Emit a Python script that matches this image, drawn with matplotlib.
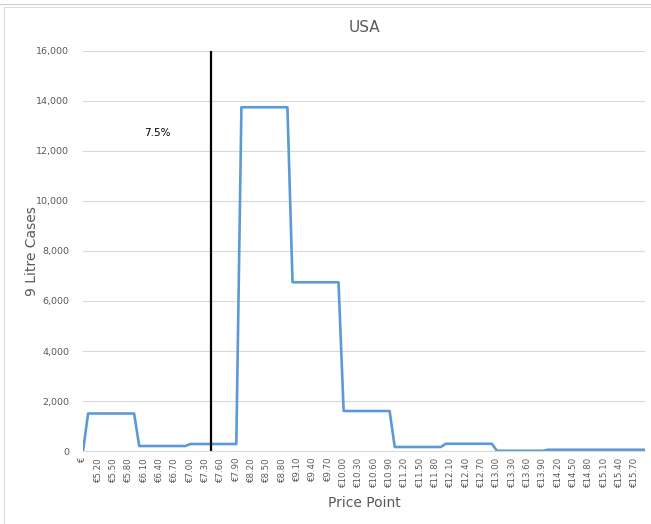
import matplotlib.pyplot as plt
from matplotlib.lines import Line2D
from matplotlib.ticker import FuncFormatter

# price points on the category axis: a blank "€" slot, then €5.00 .. €15.90
price_points = [round(5.0 + 0.1 * i, 2) for i in range(110)]
categories = ["€"] + [f"€{p:.2f}" for p in price_points]

# 9 litre cases sold at each price point, one row per €1 bracket
cases = (
    [0]
    + [1500, 1500, 1500, 1500, 1500, 1500, 1500, 1500, 1500, 1500]        # €5.00-5.90
    + [200, 200, 200, 200, 200, 200, 200, 200, 200, 200]                  # €6.00-6.90
    + [280, 280, 280, 280, 280, 280, 280, 280, 280, 280]                  # €7.00-7.90
    + [13750, 13750, 13750, 13750, 13750, 13750, 13750, 13750, 13750, 13750]  # €8.00-8.90
    + [6750, 6750, 6750, 6750, 6750, 6750, 6750, 6750, 6750, 6750]        # €9.00-9.90
    + [1600, 1600, 1600, 1600, 1600, 1600, 1600, 1600, 1600, 1600]        # €10.00-10.90
    + [160, 160, 160, 160, 160, 160, 160, 160, 160, 160]                  # €11.00-11.90
    + [290, 290, 290, 290, 290, 290, 290, 290, 290, 290]                  # €12.00-12.90
    + [10, 10, 10, 10, 10, 10, 10, 10, 10, 10]                            # €13.00-13.90
    + [50, 50, 50, 50, 50, 50, 50, 50, 50, 50,
       50, 50, 50, 50, 50, 50, 50, 50, 50, 50]                            # €14.00-15.90
)

marker_label = "€7.40"
note_text = "7.5%"
note_label = "€6.40"
note_value = 12700
y_ticks = [0, 2000, 4000, 6000, 8000, 10000, 12000, 14000, 16000]

grey = "#595959"
fig = plt.figure(figsize=(6.51, 5.24), dpi=100)
ax = fig.add_axes([0.1275, 0.1393, 0.991 - 0.1275, 0.9027 - 0.1393])

x = list(range(len(categories)))
ax.plot(x, cases, color="#5b9bd5", linewidth=1.9, solid_joinstyle="round")

mx = categories.index(marker_label)
ax.plot([mx, mx], [0, 16000], color="black", linewidth=1.6)
ax.text(categories.index(note_label) - 0.4, note_value, note_text,
        fontsize=7.5, color="black", ha="center", va="center")

ax.set_xlim(0, len(categories) - 1)
ax.set_ylim(0, 16000)
ax.set_yticks(y_ticks)
ax.yaxis.set_major_formatter(FuncFormatter(lambda v, p: f"{int(v):,}"))
ax.grid(axis="y", color="#d9d9d9", linewidth=0.8)
ax.set_axisbelow(True)

tick_pos = x[::3]
ax.set_xticks(tick_pos)
ax.set_xticklabels([categories[i] for i in tick_pos], rotation=90,
                   fontsize=6.2, color=grey)
ax.tick_params(axis="y", labelsize=6.8, colors=grey, length=0, pad=10)
ax.tick_params(axis="x", length=0, pad=5)

for s in ["top", "right", "left"]:
    ax.spines[s].set_visible(False)
ax.spines["bottom"].set_color("#d9d9d9")
ax.spines["bottom"].set_linewidth(0.8)

ax.set_title("USA", fontsize=11, color=grey, pad=14)
ax.set_ylabel("9 Litre Cases", fontsize=10, color=grey)
ax.yaxis.set_label_coords(-0.078, 0.5)
ax.set_xlabel("Price Point", fontsize=10, color=grey, labelpad=6)

# chart frame lines
fig.add_artist(Line2D([0, 1], [1 - 4 / 524, 1 - 4 / 524], color="#c8ccd4", linewidth=0.8))
fig.add_artist(Line2D([4 / 651, 1], [1 - 7 / 524, 1 - 7 / 524], color="#dadada", linewidth=0.8))
fig.add_artist(Line2D([4 / 651, 4 / 651], [0, 1 - 7 / 524], color="#dadada", linewidth=0.8))

fig.savefig("out.png", dpi=100)
